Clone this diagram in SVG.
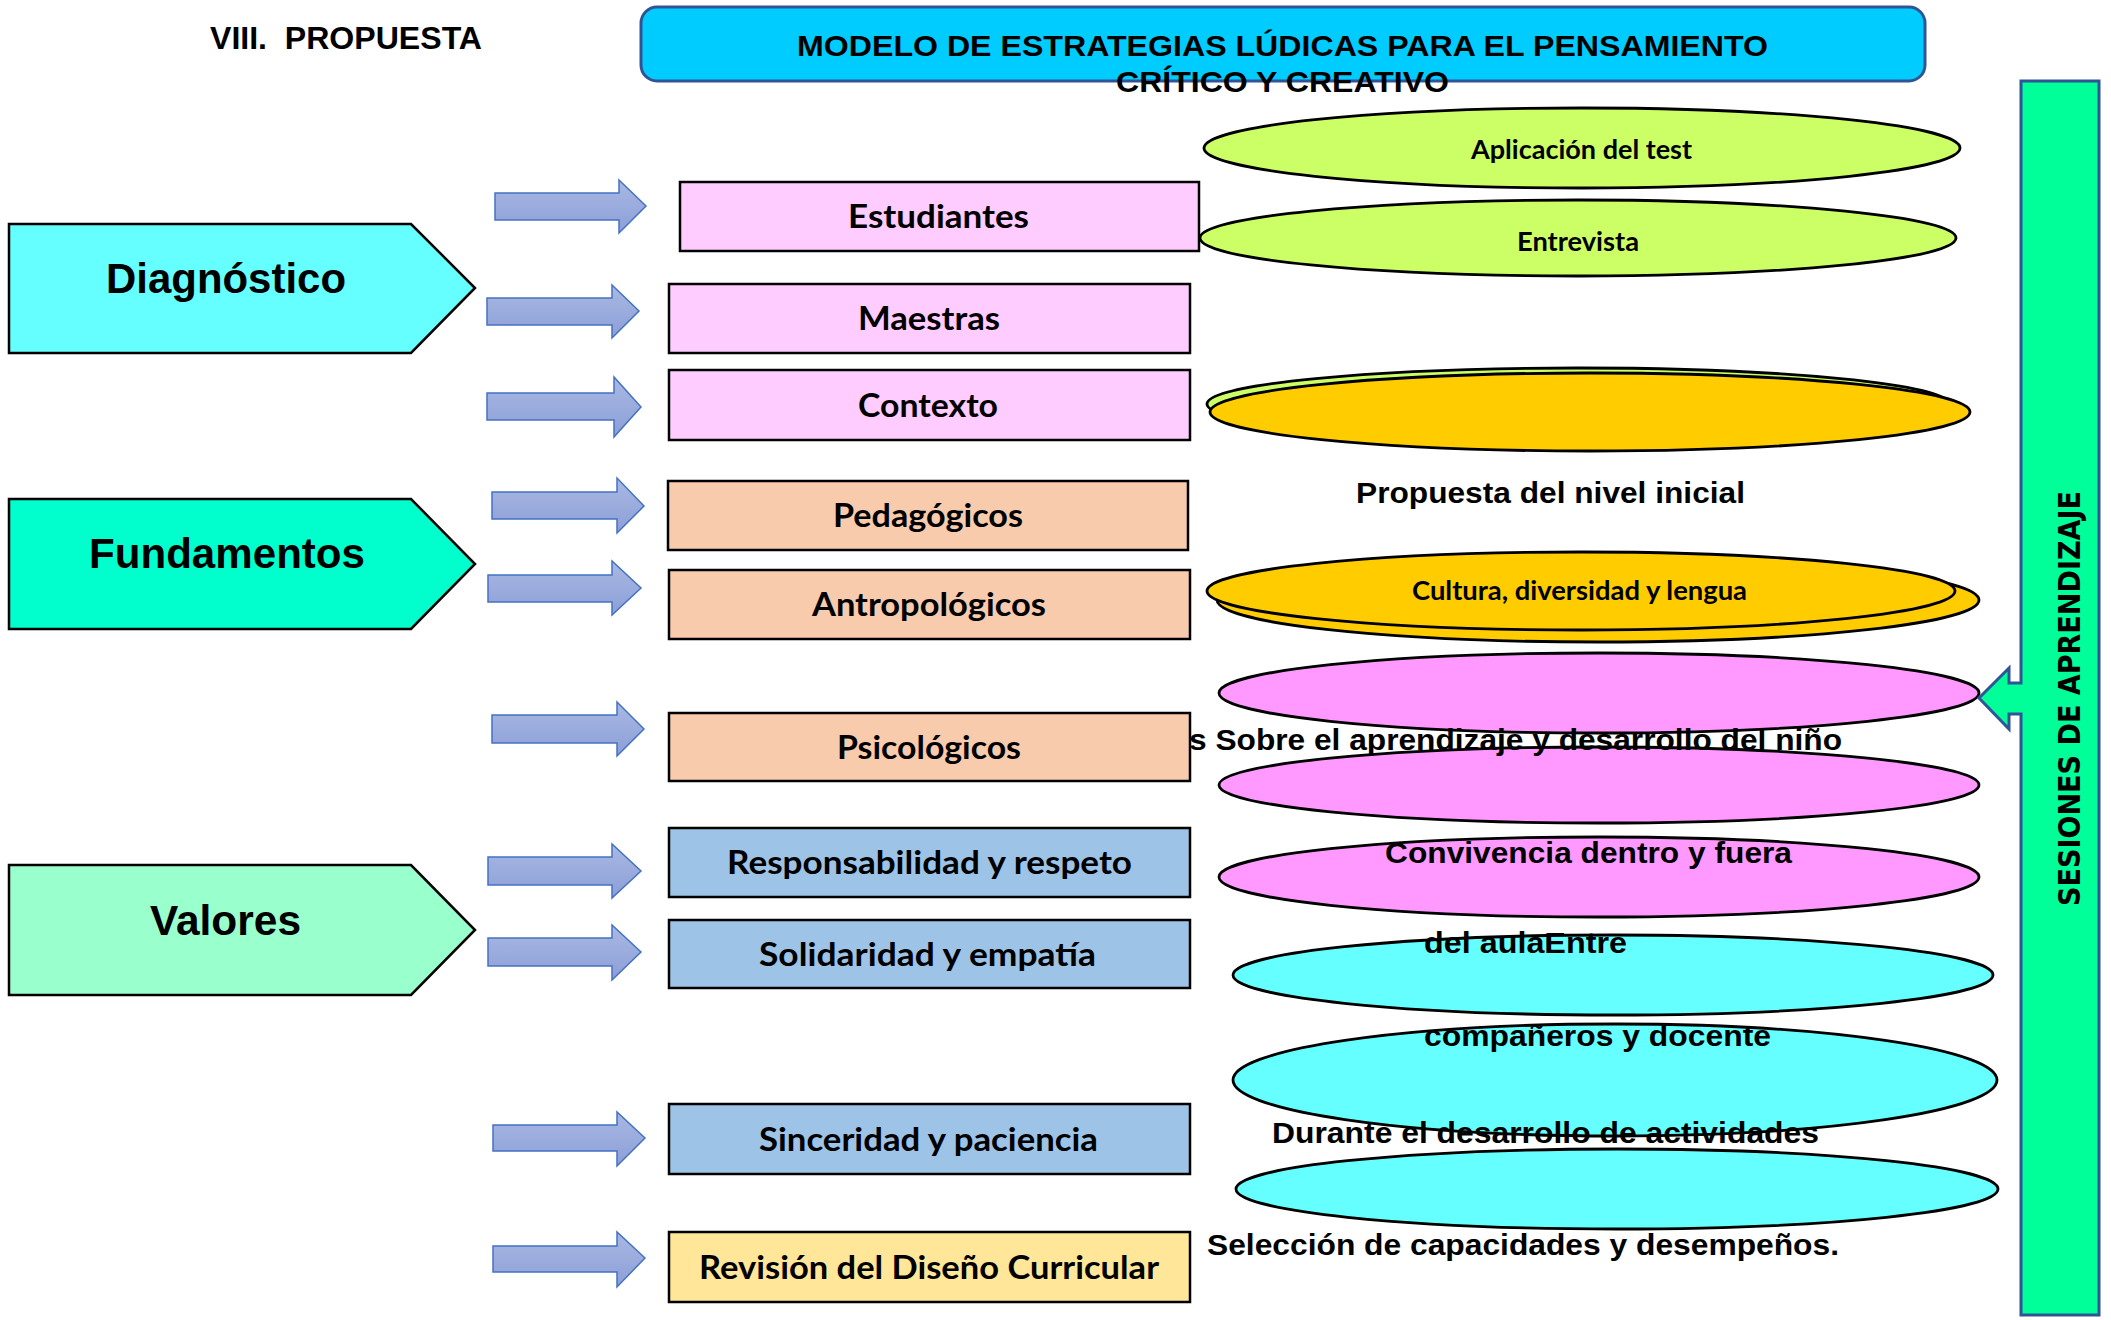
<svg xmlns="http://www.w3.org/2000/svg" width="2111" height="1320" viewBox="0 0 2111 1320">
<style>
.arial{font-family:"Liberation Sans",Arial,sans-serif;font-weight:bold;fill:#000}
.cal{font-family:Lato,"Open Sans",sans-serif;font-weight:bold;fill:#000}
.box{stroke:#000;stroke-width:2.5}
.pink{fill:#FFCCFF}
.peach{fill:#F8CBAD}
.blue{fill:#9DC3E6}
.yellow{fill:#FFE699}
.ell{stroke:#000;stroke-width:2.8}
.pent{stroke:#000;stroke-width:2.5}
.barr{fill:url(#ag);stroke:#4472C4;stroke-width:1.5}
</style>
<defs>
<linearGradient id="ag" x1="0" y1="0" x2="0" y2="1">
<stop offset="0" stop-color="#A9B9E3"/>
<stop offset="1" stop-color="#8C9ED7"/>
</linearGradient>
</defs>
<rect width="2111" height="1320" fill="#fff"/>

<g id="heading">
<text class="arial" x="210" y="49" font-size="31" textLength="272" lengthAdjust="spacingAndGlyphs" xml:space="preserve">VIII.  PROPUESTA</text>
</g>

<g id="title">
<rect x="641" y="7" width="1284" height="74" rx="16" fill="#00CCFF" stroke="#2F5597" stroke-width="3"/>
<text class="arial" x="797" y="56" font-size="30" textLength="971" lengthAdjust="spacingAndGlyphs">MODELO DE ESTRATEGIAS LÚDICAS PARA EL PENSAMIENTO</text>
<text class="arial" x="1116" y="92" font-size="30" textLength="333" lengthAdjust="spacingAndGlyphs">CRÍTICO Y CREATIVO</text>
</g>

<g id="diagnostico">
<path class="pent" d="M9,224 L411,224 L475,288 L411,353 L9,353 Z" fill="#66FFFF"/>
<text class="arial" x="106" y="293" font-size="42" textLength="240" lengthAdjust="spacingAndGlyphs">Diagnóstico</text>
</g>
<g id="fundamentos">
<path class="pent" d="M9,499 L411,499 L475,564 L411,629 L9,629 Z" fill="#00FFCC"/>
<text class="arial" x="89" y="568" font-size="42" textLength="276" lengthAdjust="spacingAndGlyphs">Fundamentos</text>
</g>
<g id="valores">
<path class="pent" d="M9,865 L411,865 L475,930 L411,995 L9,995 Z" fill="#99FFCC"/>
<text class="arial" x="150" y="935" font-size="42" textLength="151" lengthAdjust="spacingAndGlyphs">Valores</text>
</g>

<g id="connectors">
<path class="barr" d="M495,193 L619,193 L619,180 L646,206 L619,233 L619,220 L495,220 Z"/>
<path class="barr" d="M487,298 L612,298 L612,285 L639,311 L612,338 L612,325 L487,325 Z"/>
<path class="barr" d="M487,393 L614,393 L614,377 L641,407 L614,437 L614,420 L487,420 Z"/>
<path class="barr" d="M492,492 L617,492 L617,478 L644,506 L617,533 L617,519 L492,519 Z"/>
<path class="barr" d="M488,575 L612,575 L612,561 L641,588 L612,615 L612,602 L488,602 Z"/>
<path class="barr" d="M492,715 L617,715 L617,702 L644,729 L617,756 L617,743 L492,743 Z"/>
<path class="barr" d="M488,857 L612,857 L612,844 L641,871 L612,898 L612,885 L488,885 Z"/>
<path class="barr" d="M488,938 L612,938 L612,925 L641,952 L612,980 L612,966 L488,966 Z"/>
<path class="barr" d="M493,1125 L617,1125 L617,1112 L645,1138 L617,1166 L617,1151 L493,1151 Z"/>
<path class="barr" d="M493,1246 L617,1246 L617,1232 L645,1258 L617,1287 L617,1272 L493,1272 Z"/>
</g>

<g id="estudiantes"><rect class="box pink" x="680" y="182" width="519" height="69"/><text class="cal" x="848" y="228" font-size="33" textLength="181" lengthAdjust="spacingAndGlyphs">Estudiantes</text></g>
<g id="maestras"><rect class="box pink" x="669" y="284" width="521" height="69"/><text class="cal" x="858" y="330" font-size="33" textLength="142" lengthAdjust="spacingAndGlyphs">Maestras</text></g>
<g id="contexto"><rect class="box pink" x="669" y="370" width="521" height="70"/><text class="cal" x="858" y="417" font-size="33" textLength="140" lengthAdjust="spacingAndGlyphs">Contexto</text></g>
<g id="pedagogicos"><rect class="box peach" x="668" y="481" width="520" height="69"/><text class="cal" x="833" y="527" font-size="33" textLength="190" lengthAdjust="spacingAndGlyphs">Pedagógicos</text></g>
<g id="antropologicos"><rect class="box peach" x="669" y="570" width="521" height="69"/><text class="cal" x="812" y="616" font-size="33" textLength="234" lengthAdjust="spacingAndGlyphs">Antropológicos</text></g>
<g id="psicologicos"><rect class="box peach" x="669" y="713" width="521" height="68"/><text class="cal" x="837" y="759" font-size="33" textLength="184" lengthAdjust="spacingAndGlyphs">Psicológicos</text></g>
<g id="responsabilidad"><rect class="box blue" x="669" y="828" width="521" height="69"/><text class="cal" x="727" y="874" font-size="33" textLength="405" lengthAdjust="spacingAndGlyphs">Responsabilidad y respeto</text></g>
<g id="solidaridad"><rect class="box blue" x="669" y="920" width="521" height="68"/><text class="cal" x="759" y="966" font-size="33" textLength="337" lengthAdjust="spacingAndGlyphs">Solidaridad y empatía</text></g>
<g id="sinceridad"><rect class="box blue" x="669" y="1104" width="521" height="70"/><text class="cal" x="759" y="1151" font-size="33" textLength="339" lengthAdjust="spacingAndGlyphs">Sinceridad y paciencia</text></g>
<g id="revision"><rect class="box yellow" x="669" y="1232" width="521" height="70"/><text class="cal" x="699" y="1279" font-size="33" textLength="460" lengthAdjust="spacingAndGlyphs">Revisión del Diseño Curricular</text></g>

<g id="aplicacion"><ellipse class="ell" cx="1582" cy="148" rx="378" ry="40" fill="#CCFF66"/><text class="cal" x="1471" y="159" font-size="26" textLength="221" lengthAdjust="spacingAndGlyphs">Aplicación del test</text></g>
<g id="entrevista"><ellipse class="ell" cx="1578" cy="238" rx="378" ry="38" fill="#CCFF66"/><text class="cal" x="1517" y="251" font-size="26" textLength="122" lengthAdjust="spacingAndGlyphs">Entrevista</text></g>
<g id="propuesta-ellipse">
<ellipse class="ell" cx="1578" cy="404" rx="371" ry="36" fill="#CCFF66"/>
<ellipse class="ell" cx="1590" cy="412" rx="380" ry="39" fill="#FFCC00"/>
</g>
<g id="cultura">
<ellipse class="ell" cx="1598" cy="600" rx="381" ry="42" fill="#FFCC00"/>
<ellipse class="ell" cx="1581" cy="591" rx="374" ry="39" fill="#FFCC00"/>
<text class="cal" x="1412" y="600" font-size="26" textLength="335" lengthAdjust="spacingAndGlyphs">Cultura, diversidad y lengua</text>
</g>
<g id="pink-ellipse-1"><ellipse class="ell" cx="1599" cy="693" rx="380" ry="40" fill="#FF99FF"/></g>
<g id="pink-ellipse-2"><ellipse class="ell" cx="1599" cy="785" rx="380" ry="38" fill="#FF99FF"/></g>
<g id="pink-ellipse-3"><ellipse class="ell" cx="1599" cy="877" rx="380" ry="40" fill="#FF99FF"/></g>
<g id="cyan-ellipse-1"><ellipse class="ell" cx="1613" cy="975" rx="380" ry="40" fill="#66FFFF"/></g>
<g id="cyan-ellipse-2"><ellipse class="ell" cx="1615" cy="1080" rx="382" ry="56" fill="#66FFFF"/></g>
<g id="cyan-ellipse-3"><ellipse class="ell" cx="1617" cy="1189" rx="381" ry="40" fill="#66FFFF"/></g>

<g id="labels">
<text class="arial" x="1356" y="503" font-size="29" textLength="389" lengthAdjust="spacingAndGlyphs">Propuesta del nivel inicial</text>
<text class="arial" x="1189" y="750" font-size="29" textLength="653" lengthAdjust="spacingAndGlyphs">s Sobre el aprendizaje y desarrollo del niño</text>
<text class="arial" x="1385" y="863" font-size="29" textLength="407" lengthAdjust="spacingAndGlyphs">Convivencia dentro y fuera</text>
<text class="arial" x="1424" y="953" font-size="29" textLength="203" lengthAdjust="spacingAndGlyphs">del aulaEntre</text>
<text class="arial" x="1424" y="1046" font-size="29" textLength="347" lengthAdjust="spacingAndGlyphs">compañeros y docente</text>
<text class="arial" x="1272" y="1143" font-size="29" textLength="547" lengthAdjust="spacingAndGlyphs">Durante el desarrollo de actividades</text>
<text class="arial" x="1207" y="1255" font-size="29" textLength="632" lengthAdjust="spacingAndGlyphs">Selección de capacidades y desempeños.</text>
</g>

<g id="sesiones">
<path d="M2021,81 L2099,81 L2099,1315 L2021,1315 L2021,714 L2009,714 L2009,729 L1979,698 L2009,668 L2009,683 L2021,683 Z" fill="#00FF99" stroke="#2F5597" stroke-width="3"/>
<text x="0" y="0" transform="translate(2080,906) rotate(-90)" font-family="'DejaVu Sans',Verdana,sans-serif" font-weight="bold" font-size="31" textLength="415" lengthAdjust="spacingAndGlyphs">SESIONES DE APRENDIZAJE</text>
</g>
</svg>
